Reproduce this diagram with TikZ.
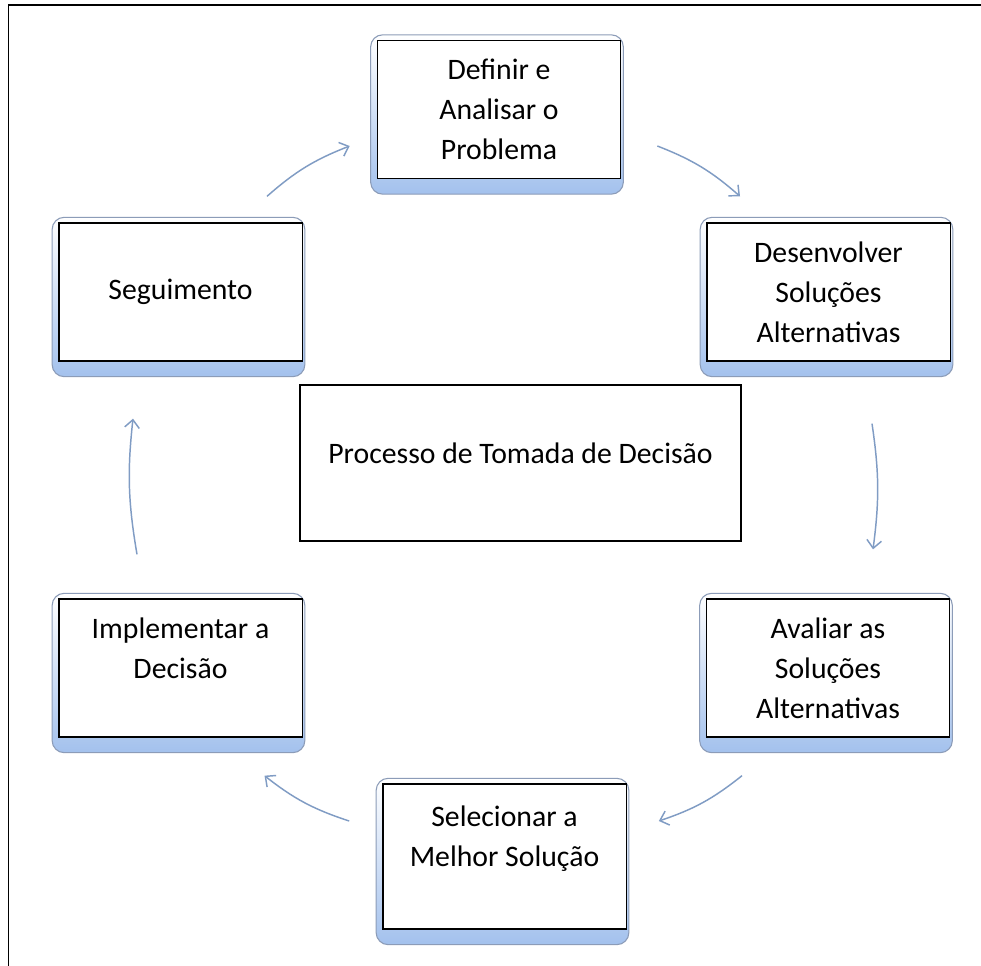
\documentclass[tikz,border=0pt]{standalone}
\usepackage{fontspec}
\setmainfont{Carlito}
\usetikzlibrary{calc,backgrounds,arrows.meta}
\definecolor{arrowblue}{RGB}{128,156,196}
\definecolor{shadeblue}{RGB}{163,193,237}
\definecolor{shadeedge}{RGB}{140,156,184}

\begin{document}
\begin{tikzpicture}[x=0.75pt, y=-0.75pt,
  stage/.style = {draw, fill=white, line width=1pt, align=center, inner sep=0pt, minimum width=182.5pt, minimum height=103.5pt, font=\fontsize{22.3}{30}\selectfont},
  flow/.style = {draw=arrowblue, line width=1.1pt, -{Straight Barb[length=6pt,width=11pt]}},
  backbox/.style = {rounded corners=9pt, draw=shadeedge, line width=0.8pt, top color=white, bottom color=shadeblue}]
\useasboundingbox (0,0) rectangle (981,966);
\draw[line width=1.3pt] (8.5,966) -- (8.5,5) -- (981,5);

\node[stage] (prob)   at (499,109.5)   {Definir e\\Analisar o\\Problema};
\node[stage] (desenv) at (828.5,292)   {Desenvolver\\Soluções\\Alternativas};
\node[stage] (aval)   at (828,668)     {Avaliar as\\Soluções\\Alternativas};
\node[stage, minimum height=108.75pt] (selec) at (504.5,856.5) {Selecionar a\\Melhor Solução\\~};
\node[stage] (impl)   at (180.5,668)   {Implementar a\\Decisão\\~};
\node[stage] (seg)    at (180.5,292)   {Seguimento};
\node[stage, minimum width=330.75pt, minimum height=117pt, text height=10pt, text depth=10pt] (topic) at (520.5,463) {Processo de Tomada de Decisão};

\begin{scope}[on background layer]
\fill[white] (0,0) rectangle (981,966);
\foreach \n in {prob,desenv,aval,selec,impl,seg}
  \shade[backbox] ($(\n.north west)+(-6,-5)$) rectangle ($(\n.south east)+(2,15)$);
\end{scope}

\draw[flow] ([shift={(86.5,-26)}]seg.north) to[bend left=10] ([shift={(-27,36.5)}]prob.west);
\draw[flow] ([shift={(36,36.5)}]prob.east) to[bend left=10] ([shift={(-88.5,-26)}]desenv.north);
\draw[flow] ([shift={(43.5,62)}]desenv.south) to[bend left=8] ([shift={(45,-49)}]aval.north);
\draw[flow] ([shift={(-86,38)}]aval.south) to[bend left=10] ([shift={(32,-35.5)}]selec.east);
\draw[flow] ([shift={(-33,-35.5)}]selec.west) to[bend left=10] ([shift={(84,38)}]impl.south);
\draw[flow] ([shift={(-43.5,-44)}]impl.north) to[bend left=8] ([shift={(-47.5,57)}]seg.south);

\end{tikzpicture}
\end{document}
